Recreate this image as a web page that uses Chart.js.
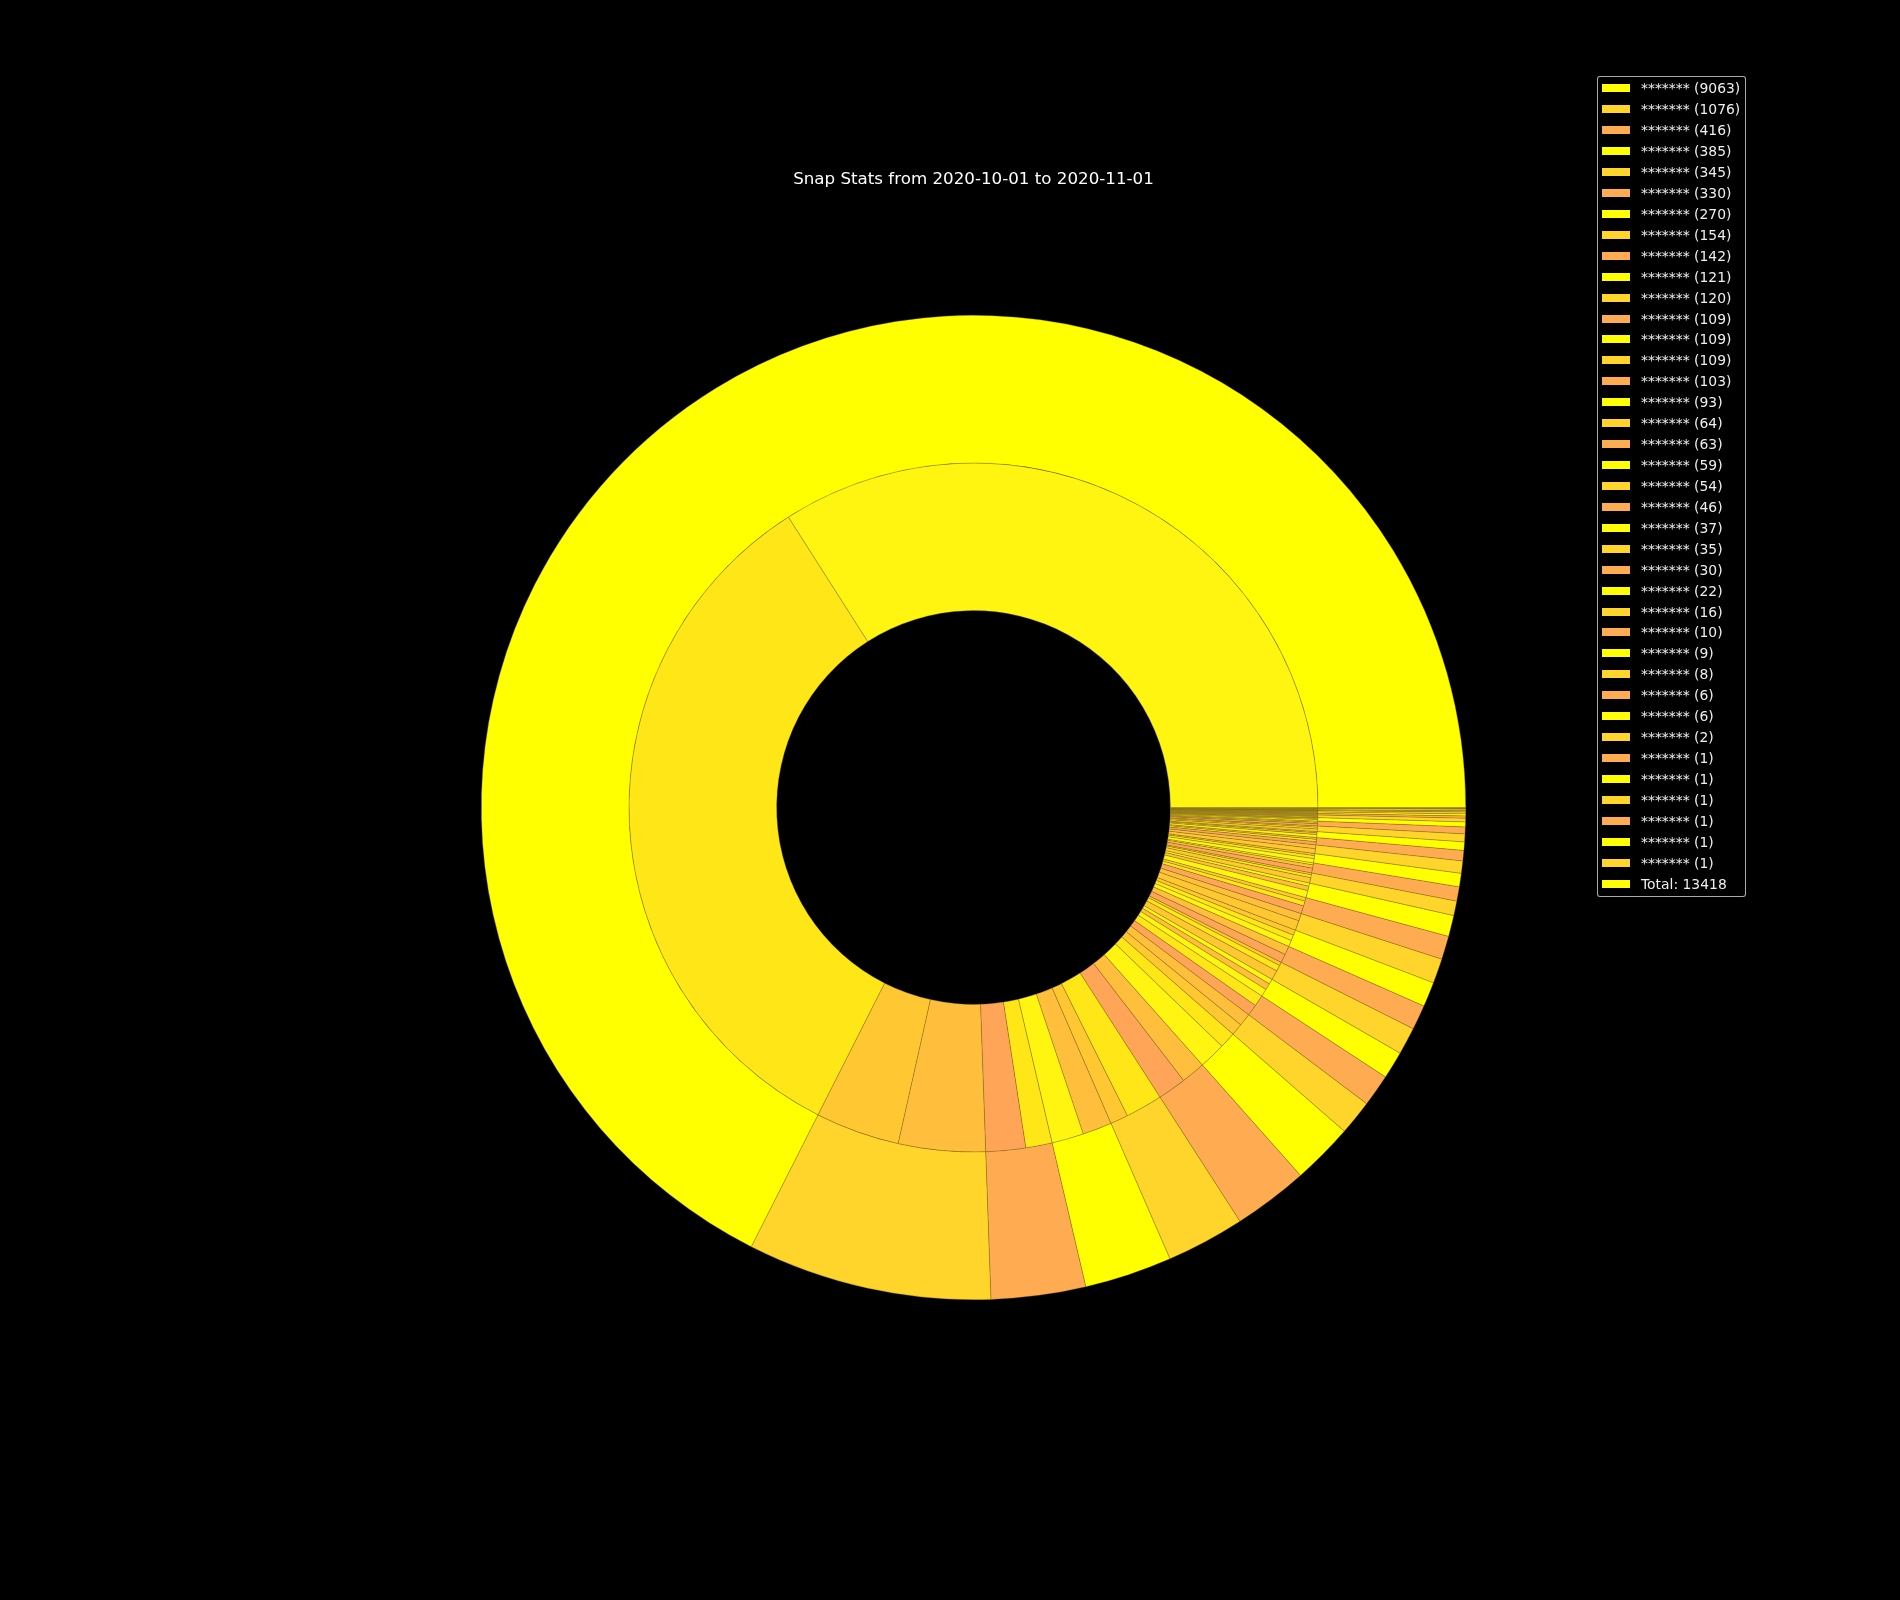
<!DOCTYPE html>
<html>
<head>
<meta charset="utf-8">
<script src="https://cdn.jsdelivr.net/npm/chart.js@4.4.0/dist/chart.umd.min.js"></script>
<style>
  body { margin: 0; background: #000; }
  #wrap { position: relative; width: 1900px; height: 1600px; background: #000; }
  #title { position: absolute; left: 0; width: 1947px; top: 168px; text-align: center;
           font: 16.7px "DejaVu Sans", sans-serif; color: #fff; line-height: 20px; }
  #legend { position: absolute; left: 1597px; top: 76px; width: 147px; height: 819px;
            border: 1px solid rgba(200,200,200,0.85); border-radius: 3px; background: #000; }
  .sw { position: absolute; left: 4px; width: 28px; height: 8px; }
  .lt { position: absolute; left: 43px; font: 13.9px "DejaVu Sans", sans-serif; color: #eee;
        line-height: 16px; white-space: nowrap; }
</style>
</head>
<body>
<div id="wrap">
  <canvas id="chart" width="1900" height="1600"></canvas>
  <div id="title">Snap Stats from 2020-10-01 to 2020-11-01</div>
  <div id="legend"></div>
</div>
<script>
// outer ring: one value per snap (names are masked)
const snapNames = Array(38).fill('*******');
const snapCounts = [9063, 1076, 416, 385, 345, 330, 270, 154, 142, 121, 120, 109, 109, 109, 103,
                    93, 64, 63, 59, 54, 46, 37, 35, 30, 22, 16, 10, 9, 8, 6, 6, 2, 1, 1, 1, 1, 1, 1];
// inner ring: breakdown of each snap (rough for the thin ones)
const innerSplits = [
  [4566, 4497], [529, 547], [250, 166], [201, 184], [112, 233], [179, 151], [168, 102],
  [75, 79], [71, 71], [48, 41, 32], [60, 38, 22], [55, 54], [40, 36, 33], [62, 47],
  [50, 30, 23], [45, 28, 20], [34, 18, 12], [30, 21, 12], [27, 19, 13], [30, 24],
  [20, 15, 11], [18, 12, 7], [16, 11, 8], [14, 9, 7], [10, 7, 5], [7, 5, 4], [5, 3, 2],
  [4, 3, 2], [4, 3, 1], [3, 2, 1], [4, 2], [1, 1], [1], [1], [1], [1], [1], [1]
];
const totalLabel = 'Total: 13418';

const outerColors = ['#ffff00', '#ffd42b', '#ffab52'];
const innerFirst = ['#fff511', '#ffc832', '#ffa558'];
const innerEven = ['#fff511', '#ffe617', '#ffc832'];
const innerOdd = ['#ffc832', '#ffbf3c', '#fff511'];

const outerBg = snapCounts.map((v, i) => outerColors[i % 3]);
const innerVals = [], innerBg = [];
innerSplits.forEach((parts, i) => {
  parts.forEach((v, j) => {
    innerVals.push(v);
    innerBg.push(j === 0 ? innerFirst[i % 3] : (i % 2 === 0 ? innerEven[j] : innerOdd[j]));
  });
});

// matplotlib goes counter-clockwise from 3 o'clock, chart.js clockwise -> reverse
const rev = a => a.slice().reverse();

const edge = 'rgba(120, 100, 20, 0.55)';
new Chart(document.getElementById('chart'), {
  type: 'doughnut',
  data: {
    labels: rev(snapNames),
    datasets: [
      { data: rev(snapCounts), backgroundColor: rev(outerBg), borderColor: edge, borderWidth: 0.6 },
      { data: rev(innerVals), backgroundColor: rev(innerBg), borderColor: edge, borderWidth: 0.6 }
    ]
  },
  options: {
    responsive: false,
    animation: false,
    events: [],
    rotation: 90,
    cutout: '40%',
    layout: { padding: { left: 481, right: 434, top: 315, bottom: 300 } },
    plugins: { legend: { display: false }, tooltip: { enabled: false } }
  }
});

// legend box like the matplotlib one
const legend = document.getElementById('legend');
const rows = snapNames.map((n, i) => ({ text: n + ' (' + snapCounts[i] + ')', color: outerBg[i] }));
rows.push({ text: totalLabel, color: '#ffff00' });
rows.forEach((r, i) => {
  const cy = 11.3 + i * 20.93;
  const sw = document.createElement('div');
  sw.className = 'sw';
  sw.style.top = (cy - 4) + 'px';
  sw.style.background = r.color;
  const t = document.createElement('div');
  t.className = 'lt';
  t.style.top = (cy - 8) + 'px';
  t.textContent = r.text;
  legend.appendChild(sw);
  legend.appendChild(t);
});
</script>
</body>
</html>
